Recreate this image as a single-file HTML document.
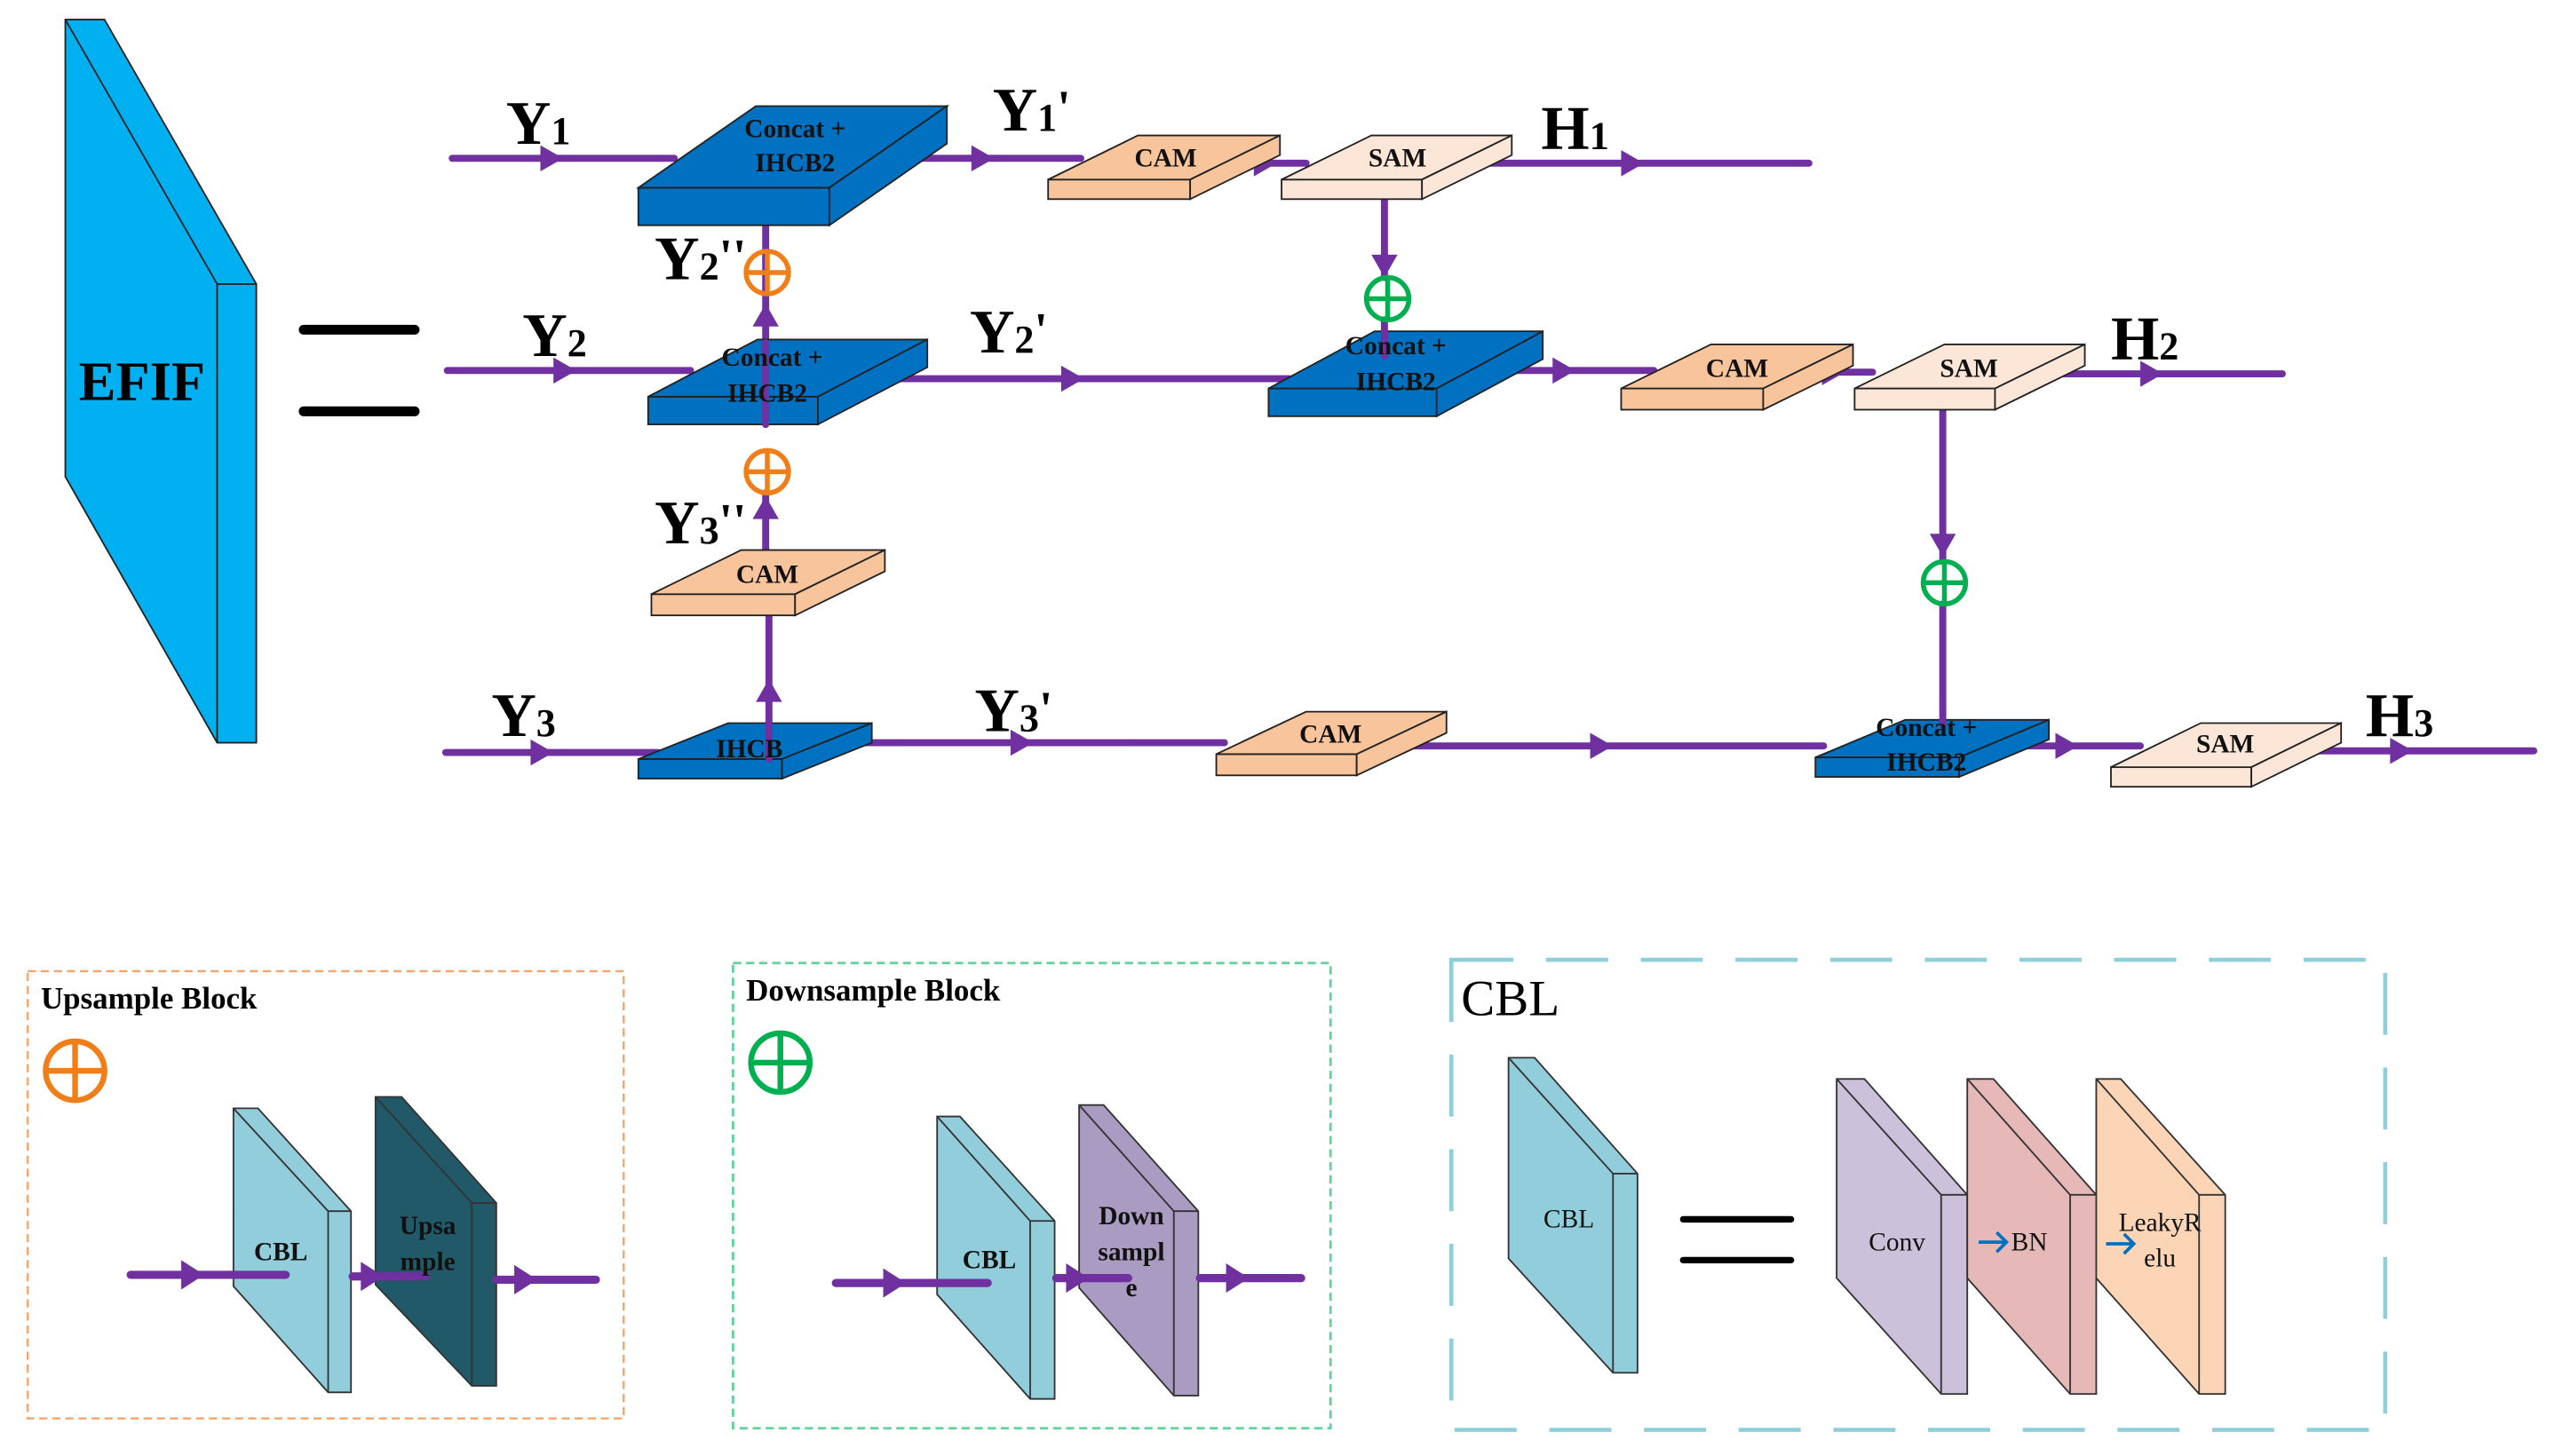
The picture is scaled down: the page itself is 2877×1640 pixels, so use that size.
<!DOCTYPE html>
<html><head><meta charset="utf-8"><style>
html,body{margin:0;padding:0;background:#fff;}
svg{display:block;}
text{font-family:"Liberation Serif",serif;}
</style></head><body>
<svg width="2877" height="1640" viewBox="0 0 1565 892" preserveAspectRatio="none" xmlns="http://www.w3.org/2000/svg">
<g stroke="#222" stroke-width="1">
<polygon points="40,12 64,12 157,174 157,455 133,455 40,292" fill="#00b0f0"/>
<line x1="40" y1="12" x2="133" y2="174"/><polyline points="133,174 157,174" fill="none"/><line x1="133" y1="174" x2="133" y2="455"/>
</g>
<text x="87" y="245" font-size="34" font-weight="bold" text-anchor="middle">EFIF</text>
<line x1="186" y1="202" x2="254" y2="202" stroke="#000" stroke-width="6" stroke-linecap="round"/>
<line x1="186" y1="252" x2="254" y2="252" stroke="#000" stroke-width="6" stroke-linecap="round"/>

<g stroke="#7030a0" stroke-width="4.3" stroke-linecap="round" fill="none">
<line x1="277" y1="97" x2="413" y2="97"/>
<line x1="553" y1="97" x2="662" y2="97"/>
<line x1="760" y1="100" x2="800" y2="100"/>
<line x1="900" y1="100" x2="1108" y2="100"/>
<line x1="848" y1="122" x2="848" y2="170"/>
<line x1="274" y1="227" x2="423" y2="227"/>
<line x1="540" y1="232" x2="790" y2="232"/>
<line x1="909" y1="227" x2="1013" y2="227"/>
<line x1="1108" y1="228" x2="1147" y2="228"/>
<line x1="1249" y1="229" x2="1398" y2="229"/>
<line x1="1190" y1="251" x2="1190" y2="344"/>
<line x1="1190" y1="370" x2="1190" y2="434"/>
<line x1="469" y1="260" x2="469" y2="138"/>
<line x1="471" y1="442" x2="471" y2="377"/>
<line x1="469" y1="363" x2="469" y2="302"/>
<line x1="273" y1="461" x2="403" y2="461"/>
<line x1="513" y1="455" x2="750" y2="455"/>
<line x1="851" y1="457" x2="1117" y2="457"/>
<line x1="1224" y1="457" x2="1311" y2="457"/>
<line x1="1403" y1="460" x2="1552" y2="460"/>
</g>
<g fill="#7030a0">
<polygon points="331,89 345,97 331,105"/>
<polygon points="595,89 609,97 595,105"/>
<polygon points="768,92 782,100 768,108"/>
<polygon points="993,92 1007,100 993,108"/>
<polygon points="840,156 848,170 856,156"/>
<polygon points="339,219 353,227 339,235"/>
<polygon points="650,224 664,232 650,240"/>
<polygon points="951,219 965,227 951,235"/>
<polygon points="1116,220 1130,228 1116,236"/>
<polygon points="1311,221 1325,229 1311,237"/>
<polygon points="1182,327 1190,341 1198,327"/>
<polygon points="461,200 469,186 477,200"/>
<polygon points="461,318 469,304 477,318"/>
<polygon points="463,430 471,416 479,430"/>
<polygon points="325,453 339,461 325,469"/>
<polygon points="619,447 633,455 619,463"/>
<polygon points="974,449 988,457 974,465"/>
<polygon points="1259,449 1273,457 1259,465"/>
<polygon points="1464,452 1478,460 1464,468"/>
</g>

<g stroke="#222" stroke-width="1">
<g fill="#0070c0">
<rect x="391" y="115" width="117" height="23"/><polygon points="391,115 508,115 580,65 463,65"/><polygon points="508,115 580,65 580,88 508,138"/>
<rect x="397" y="243" width="104" height="17"/><polygon points="397,243 501,243 568,208 464,208"/><polygon points="501,243 568,208 568,225 501,260"/>
<rect x="391" y="465" width="88" height="12"/><polygon points="391,465 479,465 534,443 446,443"/><polygon points="479,465 534,443 534,455 479,477"/>
<rect x="777" y="238" width="103" height="17"/><polygon points="777,238 880,238 945,203 842,203"/><polygon points="880,238 945,203 945,220 880,255"/>
<rect x="1112" y="464" width="88" height="12"/><polygon points="1112,464 1200,464 1255,441 1167,441"/><polygon points="1200,464 1255,441 1255,453 1200,476"/>
</g>
<g fill="#f8c49b">
<rect x="399" y="364" width="88" height="13"/><polygon points="399,364 487,364 542,337 454,337"/><polygon points="487,364 542,337 542,350 487,377"/>
<rect x="642" y="110" width="87" height="12"/><polygon points="642,110 729,110 784,83 697,83"/><polygon points="729,110 784,83 784,95 729,122"/>
<rect x="993" y="238" width="87" height="13"/><polygon points="993,238 1080,238 1135,211 1048,211"/><polygon points="1080,238 1135,211 1135,224 1080,251"/>
<rect x="745" y="462" width="86" height="13"/><polygon points="745,462 831,462 886,436 800,436"/><polygon points="831,462 886,436 886,449 831,475"/>
</g>
<g fill="#fbe6d7">
<rect x="785" y="110" width="86" height="12"/><polygon points="785,110 871,110 926,83 840,83"/><polygon points="871,110 926,83 926,95 871,122"/>
<rect x="1136" y="238" width="86" height="13"/><polygon points="1136,238 1222,238 1277,211 1191,211"/><polygon points="1222,238 1277,211 1277,224 1222,251"/>
<rect x="1293" y="470" width="86" height="12"/><polygon points="1293,470 1379,470 1434,443 1348,443"/><polygon points="1379,470 1434,443 1434,455 1379,482"/>
</g>
</g>
<g stroke="#7030a0" stroke-width="4.3" stroke-linecap="round">
<line x1="469" y1="260" x2="469" y2="210"/>
<line x1="471" y1="465" x2="471" y2="442"/>
<line x1="1190" y1="434" x2="1190" y2="444"/>
<line x1="848" y1="196" x2="848" y2="218"/>
</g>

<g font-weight="bold" font-size="16" text-anchor="middle" fill="#111">
<text x="487" y="84">Concat +</text><text x="487" y="105">IHCB2</text>
<text x="473" y="224">Concat +</text><text x="470" y="246">IHCB2</text>
<text x="470" y="357">CAM</text>
<text x="459" y="464">IHCB</text>
<text x="714" y="102">CAM</text>
<text x="856" y="102">SAM</text>
<text x="855" y="217">Concat +</text><text x="855" y="239">IHCB2</text>
<text x="1064" y="231">CAM</text>
<text x="1206" y="231">SAM</text>
<text x="815" y="455">CAM</text>
<text x="1180" y="451">Concat +</text><text x="1180" y="472">IHCB2</text>
<text x="1363" y="461">SAM</text>
</g>

<g fill="none" stroke-width="3">
<g stroke="#f07f1a"><circle cx="470" cy="167" r="13"/><line x1="457" y1="167" x2="483" y2="167"/><line x1="470" y1="154" x2="470" y2="180"/>
<circle cx="470" cy="289" r="13"/><line x1="457" y1="289" x2="483" y2="289"/><line x1="470" y1="276" x2="470" y2="302"/></g>
<g stroke="#00b050"><circle cx="850" cy="183" r="13"/><line x1="837" y1="183" x2="863" y2="183"/><line x1="850" y1="170" x2="850" y2="196"/>
<circle cx="1191" cy="357" r="13"/><line x1="1178" y1="357" x2="1204" y2="357"/><line x1="1191" y1="344" x2="1191" y2="370"/></g>
</g>

<g font-weight="bold" font-size="38" fill="#000">
<text x="310" y="88">Y<tspan font-size="24">1</tspan></text>
<text x="608" y="80">Y<tspan font-size="24">1</tspan><tspan font-size="30" dy="-4">'</tspan></text>
<text x="944" y="91">H<tspan font-size="24">1</tspan></text>
<text x="320" y="218">Y<tspan font-size="24">2</tspan></text>
<text x="594" y="216">Y<tspan font-size="24">2</tspan><tspan font-size="30" dy="-4">'</tspan></text>
<text x="1293" y="220">H<tspan font-size="24">2</tspan></text>
<text x="401" y="171">Y<tspan font-size="24">2</tspan><tspan font-size="30" dy="-4">''</tspan></text>
<text x="401" y="333">Y<tspan font-size="24">3</tspan><tspan font-size="30" dy="-4">''</tspan></text>
<text x="301" y="451">Y<tspan font-size="24">3</tspan></text>
<text x="597" y="448">Y<tspan font-size="24">3</tspan><tspan font-size="30" dy="-4">'</tspan></text>
<text x="1449" y="451">H<tspan font-size="24">3</tspan></text>
</g>

<rect x="17" y="595" width="365" height="274" fill="none" stroke="#f4a66a" stroke-width="1.3" stroke-dasharray="5,3"/>
<rect x="449" y="590" width="366" height="285" fill="none" stroke="#5fd39a" stroke-width="1.5" stroke-dasharray="5,3"/>
<rect x="889" y="588" width="572" height="288" fill="none" stroke="#8ecfdc" stroke-width="2.5" stroke-dasharray="38,20"/>
<text x="25" y="618" font-size="19" font-weight="bold">Upsample Block</text>
<text x="457" y="613" font-size="19" font-weight="bold">Downsample Block</text>
<text x="895" y="622" font-size="31">CBL</text>

<g fill="none" stroke-width="3.5">
<g stroke="#f07f1a"><circle cx="46" cy="656" r="18"/><line x1="28" y1="656" x2="64" y2="656"/><line x1="46" y1="638" x2="46" y2="674"/></g>
<g stroke="#00b050"><circle cx="478" cy="651" r="18"/><line x1="460" y1="651" x2="496" y2="651"/><line x1="478" y1="633" x2="478" y2="669"/></g>
</g>

<g stroke="#333" stroke-width="1">
<polygon points="143,679 158,679 215,742 215,853 201,853 143,788" fill="#92cddc"/>
<line x1="143" y1="679" x2="201" y2="742"/><line x1="201" y1="742" x2="215" y2="742"/><line x1="201" y1="742" x2="201" y2="853"/>
<polygon points="230,672 246,672 304,737 304,849 289,849 230,787" fill="#215968"/>
<line x1="230" y1="672" x2="289" y2="737"/><line x1="289" y1="737" x2="304" y2="737"/><line x1="289" y1="737" x2="289" y2="849"/>
<polygon points="574,684 588,684 646,748 646,857 631,857 574,793" fill="#92cddc"/>
<line x1="574" y1="684" x2="631" y2="748"/><line x1="631" y1="748" x2="646" y2="748"/><line x1="631" y1="748" x2="631" y2="857"/>
<polygon points="661,677 676,677 734,742 734,855 719,855 661,789" fill="#a99bc2"/>
<line x1="661" y1="677" x2="719" y2="742"/><line x1="719" y1="742" x2="734" y2="742"/><line x1="719" y1="742" x2="719" y2="855"/>
<polygon points="924,648 940,648 1003,719 1003,841 988,841 924,771" fill="#92cddc"/>
<line x1="924" y1="648" x2="988" y2="719"/><line x1="988" y1="719" x2="1003" y2="719"/><line x1="988" y1="719" x2="988" y2="841"/>
<polygon points="1125,661 1142,661 1205,732 1205,854 1189,854 1125,783" fill="#ccc1da"/>
<line x1="1125" y1="661" x2="1189" y2="732"/><line x1="1189" y1="732" x2="1205" y2="732"/><line x1="1189" y1="732" x2="1189" y2="854"/>
<polygon points="1205,661 1221,661 1284,732 1284,854 1268,854 1205,783" fill="#e6b8b7"/>
<line x1="1205" y1="661" x2="1268" y2="732"/><line x1="1268" y1="732" x2="1284" y2="732"/><line x1="1268" y1="732" x2="1268" y2="854"/>
<polygon points="1284,661 1299,661 1363,732 1363,854 1347,854 1284,783" fill="#fbd5b5"/>
<line x1="1284" y1="661" x2="1347" y2="732"/><line x1="1347" y1="732" x2="1363" y2="732"/><line x1="1347" y1="732" x2="1347" y2="854"/>
</g>
<g stroke="#7030a0" stroke-width="5" stroke-linecap="round">
<line x1="80" y1="781" x2="175" y2="781"/><line x1="216" y1="782" x2="261" y2="782"/><line x1="304" y1="784" x2="365" y2="784"/>
<line x1="512" y1="786" x2="605" y2="786"/><line x1="647" y1="783" x2="691" y2="783"/><line x1="735" y1="783" x2="797" y2="783"/>
</g>
<g fill="#7030a0">
<polygon points="111,772 125,781 111,790"/><polygon points="221,773 235,782 221,791"/><polygon points="315,775 329,784 315,793"/>
<polygon points="541,777 555,786 541,795"/><polygon points="653,774 667,783 653,792"/><polygon points="751,774 765,783 751,792"/>
</g>
<g font-size="16" font-weight="bold" text-anchor="middle" fill="#111">
<text x="172" y="772">CBL</text>
<text x="262" y="756">Upsa</text><text x="262" y="778">mple</text>
<text x="606" y="777">CBL</text>
<text x="693" y="750">Down</text><text x="693" y="772">sampl</text><text x="693" y="794">e</text>
</g>
<g font-size="16" text-anchor="middle" fill="#111">
<text x="961" y="752">CBL</text>
<text x="1162" y="766">Conv</text>
<text x="1243" y="766">BN</text>
<text x="1323" y="754">LeakyR</text><text x="1323" y="776">elu</text>
</g>
<line x1="1031" y1="747" x2="1097" y2="747" stroke="#000" stroke-width="4" stroke-linecap="round"/>
<line x1="1031" y1="772" x2="1097" y2="772" stroke="#000" stroke-width="4" stroke-linecap="round"/>
<g stroke="#0070c0" stroke-width="2" fill="none">
<line x1="1212" y1="761" x2="1228" y2="761"/><polyline points="1223,755 1229,761 1223,767"/>
<line x1="1290" y1="762" x2="1306" y2="762"/><polyline points="1301,756 1307,762 1301,768"/>
</g>
</svg>
</body></html>
